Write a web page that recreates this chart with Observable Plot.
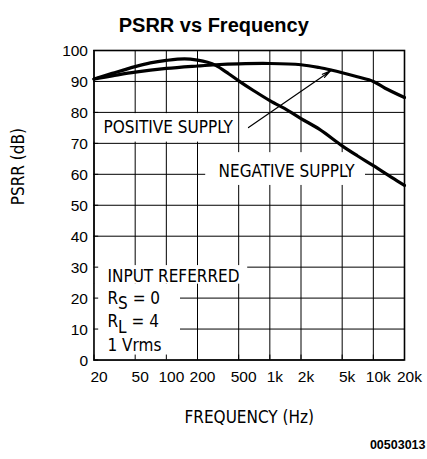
<!DOCTYPE html>
<html>
<head>
<meta charset="utf-8">
<script src="https://cdn.jsdelivr.net/npm/d3@7"></script>
<script src="https://cdn.jsdelivr.net/npm/@observablehq/plot@0.6"></script>
<style>
  html, body { margin: 0; padding: 0; background: #fff; }
  svg { display: block; }
</style>
</head>
<body>
<div id="chart"></div>
<script>
// ---- data ----
const xTicks = [20, 50, 100, 200, 500, 1000, 2000, 5000, 10000, 20000];
const xTickLabels = ["20", "50", "100", "200", "500", "1k", "2k", "5k", "10k", "20k"];
const yTicks = [0, 10, 20, 30, 40, 50, 60, 70, 80, 90, 100];

const freqPos = [20, 30, 50, 100, 200, 300, 500, 1000, 2000, 3000, 4000, 5000, 7000, 10000, 13000, 20000];
const psrrPos = [90.8, 91.8, 93.0, 94.2, 95.0, 95.4, 95.7, 95.8, 95.4, 94.5, 93.6, 92.8, 91.5, 90.0, 87.8, 84.8];

const freqNeg = [20, 30, 50, 70, 100, 150, 200, 250, 300, 400, 500, 700, 1000, 1500, 2000, 3000, 5000, 7000, 10000, 15000, 20000];
const psrrNeg = [90.8, 92.6, 94.8, 96.0, 96.8, 97.3, 96.9, 96.2, 95.2, 92.5, 90.2, 87.0, 83.8, 80.6, 78.0, 74.6, 69.2, 66.0, 62.8, 59.0, 56.4];

const seriesNames = ["POSITIVE SUPPLY", "NEGATIVE SUPPLY"];

const posData = freqPos.map((f, i) => ({f, v: psrrPos[i]}));
const negData = freqNeg.map((f, i) => ({f, v: psrrNeg[i]}));

const cad = "'DejaVu Sans Condensed', 'DejaVu Sans', sans-serif";

const chart = Plot.plot({
  width: 427,
  height: 459,
  marginTop: 50,
  marginBottom: 99.5,
  marginLeft: 93.5,
  marginRight: 23,
  x: {type: "log", domain: [20, 20000], axis: null},
  y: {domain: [0, 100], axis: null},
  style: {fontFamily: "'Liberation Sans', Arial, sans-serif", background: "white", color: "black"},
  marks: [
    // grid
    Plot.ruleX(xTicks, {stroke: "black", strokeWidth: 1}),
    Plot.ruleY(yTicks, {stroke: "black", strokeWidth: 1}),
    // white label boxes
    Plot.rect([
      {x1: 20, x2: 480, y1: 70.4, y2: 79.6},
      {x1: 240, x2: 8400, y1: 56.4, y2: 67},
      {x1: 20, x2: 611, y1: 24.5, y2: 30.5},
      {x1: 20, x2: 137, y1: 0, y2: 24.5}
    ], {x1: "x1", x2: "x2", y1: "y1", y2: "y2", fill: "white"}),
    // inner tick stubs
    Plot.ruleX(xTicks, {y1: 0, y2: 1.6, stroke: "black"}),
    Plot.ruleY(yTicks, {x1: 20, x2: 22.2, stroke: "black"}),
    Plot.frame({stroke: "black", strokeWidth: 1.6}),
    // tick labels
    Plot.text(xTicks, {x: d => d, text: (d, i) => xTickLabels[i], frameAnchor: "bottom", dy: 21.5, dx: 5, fontSize: 15.5}),
    Plot.text(yTicks, {y: d => d, text: d => String(d), frameAnchor: "left", textAnchor: "end", dx: -6, dy: 1, fontSize: 15.5}),
    // curves
    Plot.line(posData, {x: "f", y: "v", curve: "catmull-rom", stroke: "black", strokeWidth: 3.2}),
    Plot.line(negData, {x: "f", y: "v", curve: "catmull-rom", stroke: "black", strokeWidth: 3.2}),
    // arrow
    Plot.arrow([{x1: 622, y1: 75.1, x2: 3856, y2: 93.4}], {x1: "x1", y1: "y1", x2: "x2", y2: "y2", stroke: "black", strokeWidth: 1.2, headLength: 11, headAngle: 24}),
    // annotations
    Plot.text([seriesNames[0]], {x: 24.7, y: 75.1, text: d => d, textAnchor: "start", fontFamily: cad, fontSize: 17}),
    Plot.text([seriesNames[1]], {x: 1450, y: 60.9, text: d => d, textAnchor: "middle", fontFamily: cad, fontSize: 17}),
    Plot.text(["INPUT REFERRED"], {x: 27, y: 27.0, text: d => d, textAnchor: "start", fontFamily: cad, fontSize: 17}),
    Plot.text(["R_S = 0"], {x: 27, y: 20.0, text: d => d, textAnchor: "start", fontFamily: cad, fontSize: 17}),
    Plot.text(["R_L = 4"], {x: 27, y: 12.4, text: d => d, textAnchor: "start", fontFamily: cad, fontSize: 17}),
    Plot.text(["1 Vrms"], {x: 27, y: 4.7, text: d => d, textAnchor: "start", fontFamily: cad, fontSize: 17}),
    // axis titles
    Plot.text(["PSRR (dB)"], {frameAnchor: "left", dx: -75, rotate: -90, text: d => d, fontFamily: cad, fontSize: 17}),
    Plot.text(["FREQUENCY (Hz)"], {frameAnchor: "bottom", dy: 63, text: d => d, fontFamily: cad, fontSize: 17}),
    // title and code
    Plot.text(["PSRR vs Frequency"], {frameAnchor: "top", dx: -35.5, dy: -32.5, text: d => d, fontSize: 20, fontWeight: "bold"}),
    Plot.text(["00503013"], {frameAnchor: "bottom-right", textAnchor: "end", dx: 21, dy: 88.5, text: d => d, fontSize: 12.5, fontWeight: "bold"})
  ]
});

// subscripts (R_S, R_L)
d3.select(chart).selectAll("text").each(function () {
  const t = this.textContent;
  const m = t.match(/^(\w)_(\w)(.*)$/);
  if (m && this.childElementCount === 0) {
    const s = d3.select(this);
    s.text(null);
    s.append("tspan").text(m[1]);
    s.append("tspan").attr("dy", "0.32em").text(m[2]);
    s.append("tspan").attr("dy", "-0.32em").text(m[3]);
  }
});

document.getElementById("chart").appendChild(chart);
</script>
</body>
</html>
